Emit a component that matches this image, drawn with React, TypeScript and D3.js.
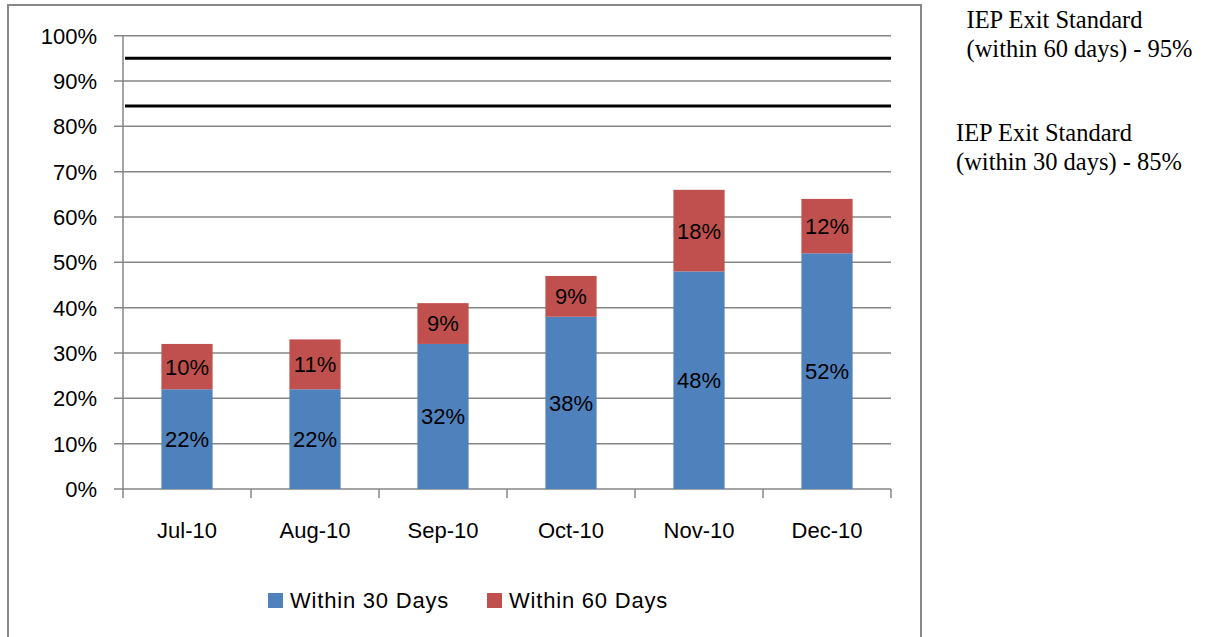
import React from "react";
import * as d3 from "d3";

const categories = ["Jul-10", "Aug-10", "Sep-10", "Oct-10", "Nov-10", "Dec-10"];
const within30 = [22, 22, 32, 38, 48, 52];
const within60 = [10, 11, 9, 9, 18, 12];
const yTicks = [0, 10, 20, 30, 40, 50, 60, 70, 80, 90, 100];
const standards = [95, 84.5];
const seriesNames = ["Within 30 Days", "Within 60 Days"];
const noteLines = [
  ["IEP Exit Standard", "(within 60 days) - 95%"],
  ["IEP Exit Standard", "(within 30 days) - 85%"],
];

const BLUE = "#4F81BD";
const RED = "#C0504D";
const GRID = "#868686";
const SANS = "'Liberation Sans', Arial, sans-serif";
const SERIF = "'Liberation Serif', 'Times New Roman', serif";

export default function App() {
  const left = 123;
  const right = 891;
  const top = 35.7;
  const bottom = 489;
  const x = d3.scaleBand<string>().domain(categories).range([left, right]).paddingInner(0.6).paddingOuter(0.3);
  const xOuter = d3.scaleBand<string>().domain(categories).range([left, right]);
  const y = d3.scaleLinear().domain([0, 100]).range([bottom, top]);

  const stacked = categories.map((c, i) => ({
    c,
    segs: [
      { y0: 0, y1: within30[i], v: within30[i], color: BLUE },
      { y0: within30[i], y1: within30[i] + within60[i], v: within60[i], color: RED },
    ],
  }));

  const tickXs = categories.map((c) => xOuter(c)!).concat([right]);

  return (
    <svg width={1215} height={637} style={{ position: "absolute", left: 0, top: 0, background: "#fff" }}>
      <rect x={8} y={5} width={913} height={640} fill="none" stroke="#888" strokeWidth={2} />
      {yTicks.map((t) => (
        <g key={t}>
          <line x1={114} x2={right} y1={y(t)} y2={y(t)} stroke={GRID} strokeWidth={1.5} />
          <text x={97} y={y(t)} dy="0.36em" textAnchor="end" fontFamily={SANS} fontSize={22} fill="#000">
            {t}%
          </text>
        </g>
      ))}
      <line x1={left} x2={left} y1={top} y2={bottom} stroke={GRID} strokeWidth={1.5} />
      {tickXs.map((tx, i) => (
        <line key={i} x1={tx} x2={tx} y1={bottom} y2={bottom + 9} stroke={GRID} strokeWidth={1.5} />
      ))}
      {stacked.map((d) =>
        d.segs.map((s, j) => (
          <g key={d.c + j}>
            <rect x={x(d.c)} y={y(s.y1)} width={x.bandwidth()} height={y(s.y0) - y(s.y1)} fill={s.color} />
            <text
              x={x(d.c)! + x.bandwidth() / 2}
              y={(y(s.y0) + y(s.y1)) / 2}
              dy="0.36em"
              textAnchor="middle"
              fontFamily={SANS}
              fontSize={22}
              fill="#000"
            >
              {s.v}%
            </text>
          </g>
        ))
      )}
      {standards.map((s) => (
        <line key={s} x1={125} x2={right} y1={y(s)} y2={y(s)} stroke="#000" strokeWidth={3} />
      ))}
      {categories.map((c) => (
        <text key={c} x={xOuter(c)! + xOuter.bandwidth() / 2} y={538} textAnchor="middle" fontFamily={SANS} fontSize={22} fill="#000">
          {c}
        </text>
      ))}
      {seriesNames.map((n, i) => {
        const lx = i === 0 ? 268 : 487;
        return (
          <g key={n}>
            <rect x={lx} y={593} width={15} height={15} fill={i === 0 ? BLUE : RED} />
            <text x={lx + 22} y={607.5} fontFamily={SANS} fontSize={22} letterSpacing={0.8} fill="#000">
              {n}
            </text>
          </g>
        );
      })}
      {noteLines.map((lines, i) => (
        <g key={i}>
          {lines.map((l, k) => (
            <text
              key={k}
              x={i === 0 ? 966.5 : 956}
              y={(i === 0 ? 28 : 141) + k * 28.5}
              fontFamily={SERIF}
              fontSize={24.5}
              fill="#000"
            >
              {l}
            </text>
          ))}
        </g>
      ))}
    </svg>
  );
}
